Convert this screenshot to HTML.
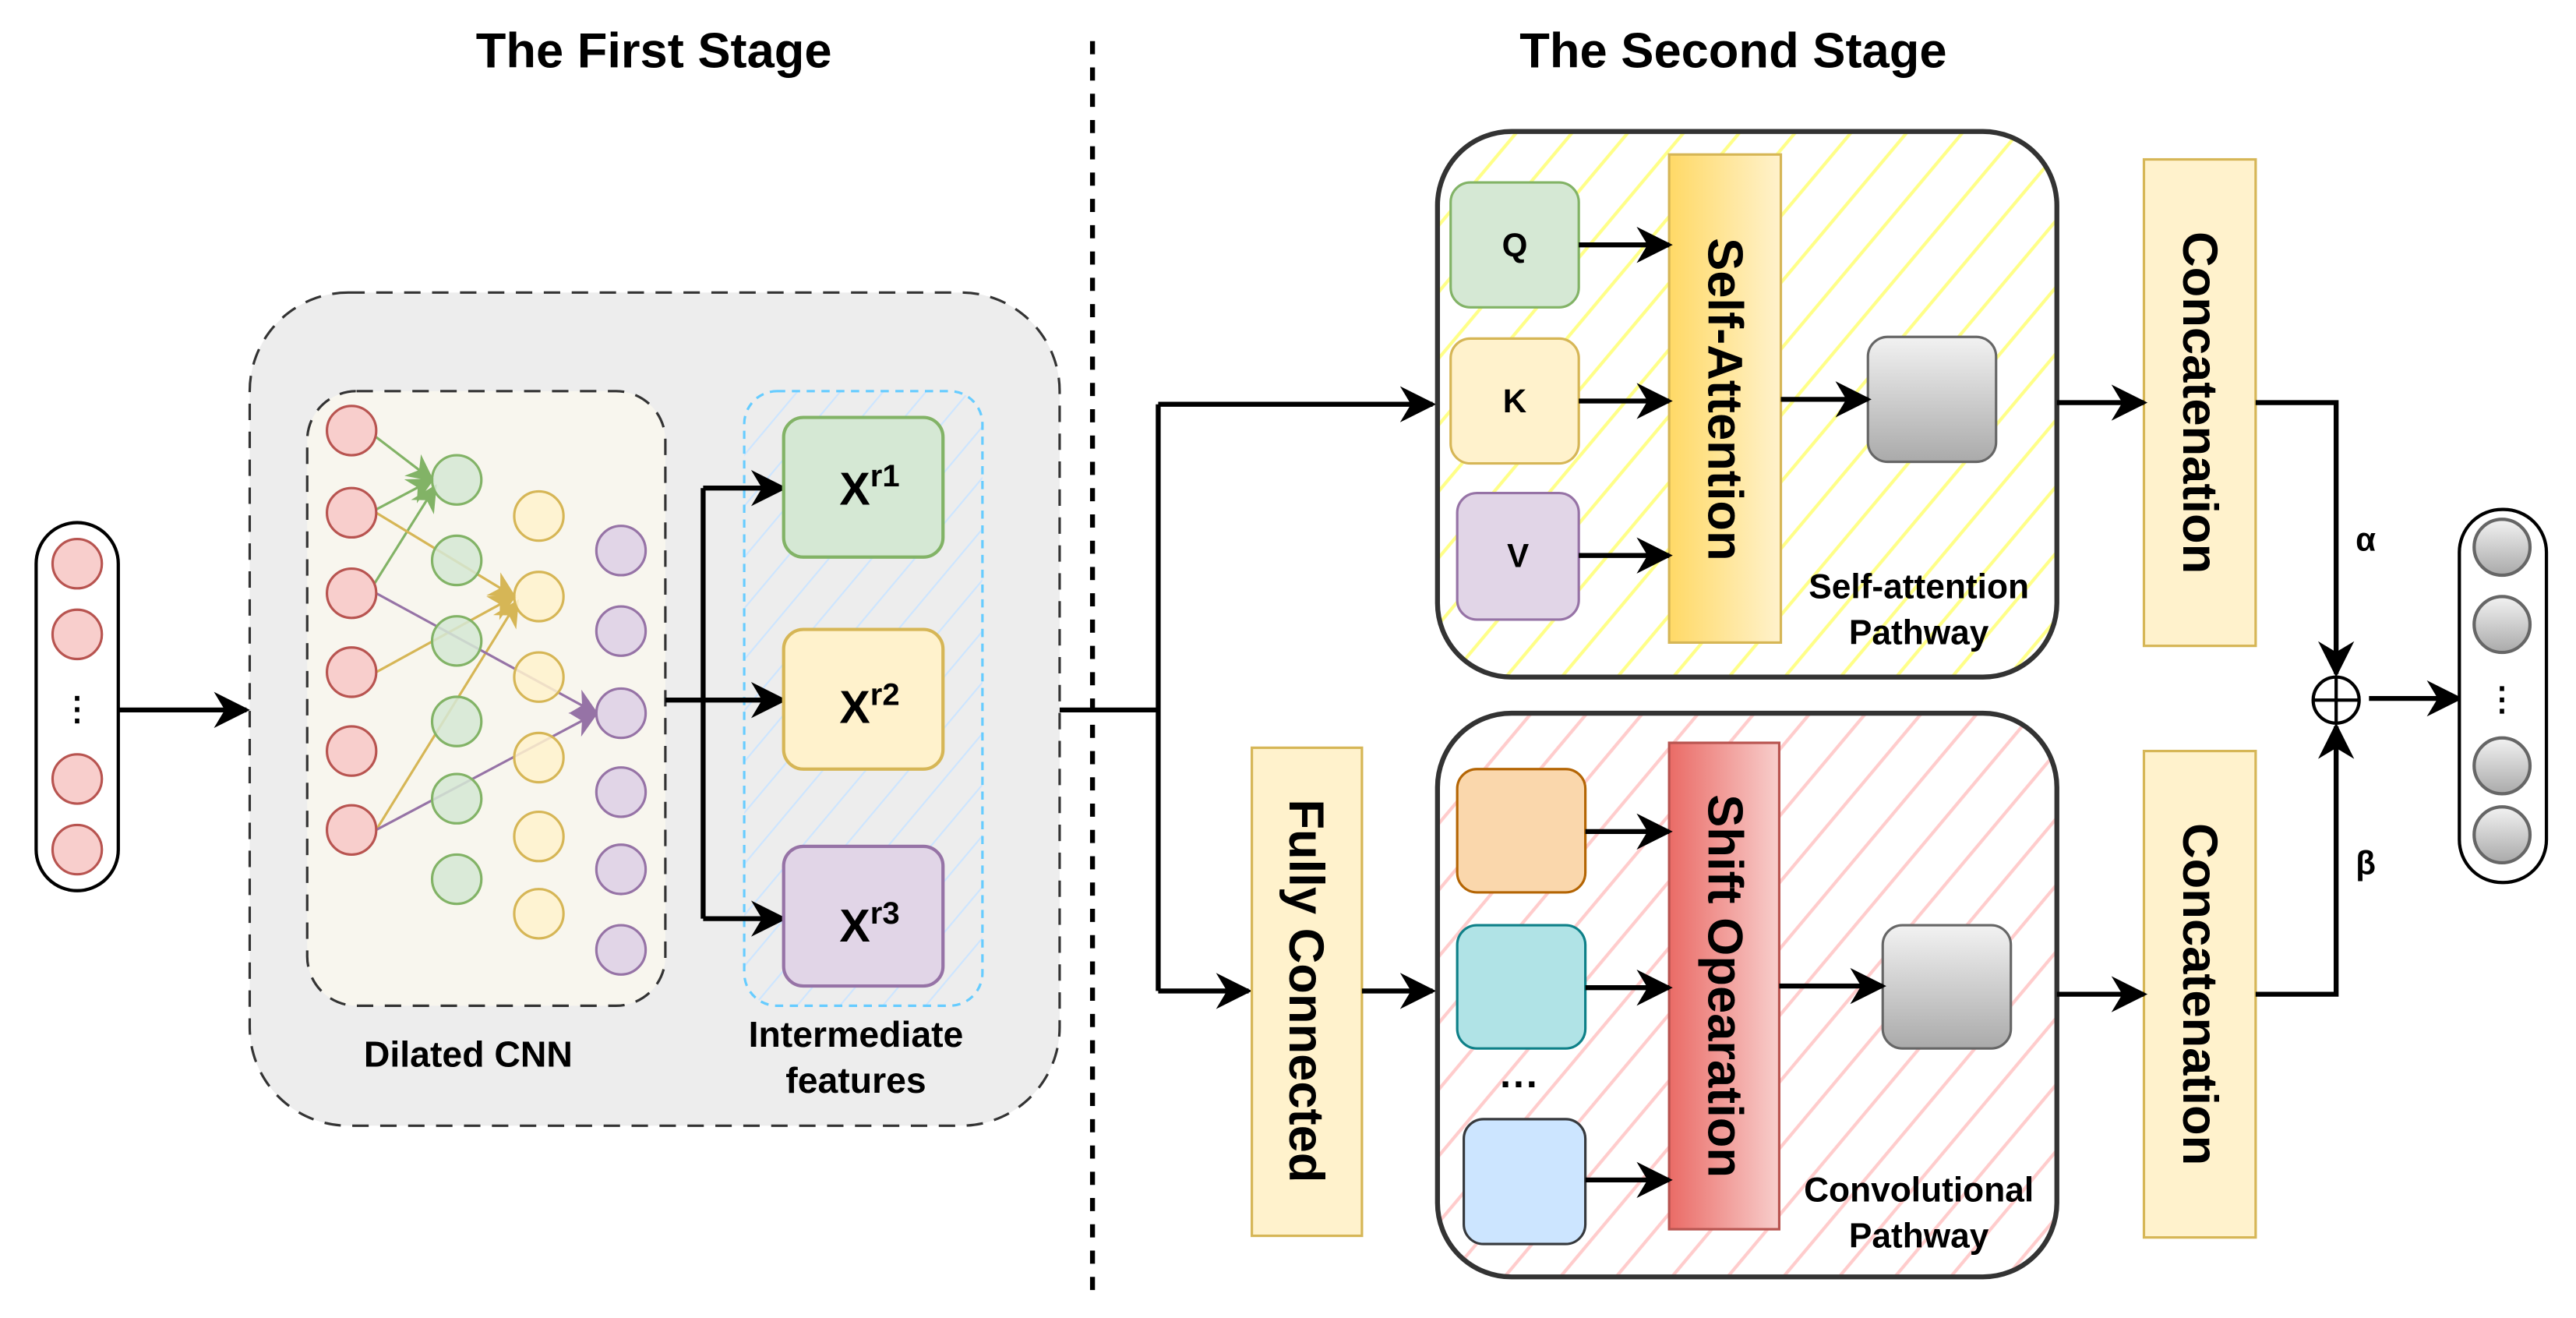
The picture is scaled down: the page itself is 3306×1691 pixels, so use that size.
<!DOCTYPE html>
<html><head><meta charset="utf-8"><style>html,body{margin:0;padding:0;background:#fff}svg{display:block}text{font-family:"Liberation Sans",sans-serif;font-weight:bold}</style></head><body>
<svg width="3306" height="1691" viewBox="0 0 1568 802" xmlns="http://www.w3.org/2000/svg">
<defs>
<marker id="ak" viewBox="0 0 10 10" refX="9" refY="5" markerWidth="22" markerHeight="22" markerUnits="userSpaceOnUse" orient="auto"><path d="M0,0 L10,5 L0,10 L3,5z" fill="#000"/></marker>
<marker id="ag" viewBox="0 0 10 10" refX="9" refY="5" markerWidth="11" markerHeight="11" orient="auto"><path d="M0,0 L10,5 L0,10 L3,5z" fill="#82b366"/></marker>
<marker id="ay" viewBox="0 0 10 10" refX="9" refY="5" markerWidth="11" markerHeight="11" orient="auto"><path d="M0,0 L10,5 L0,10 L3,5z" fill="#d6b656"/></marker>
<marker id="ap" viewBox="0 0 10 10" refX="9" refY="5" markerWidth="11" markerHeight="11" orient="auto"><path d="M0,0 L10,5 L0,10 L3,5z" fill="#9673a6"/></marker>
<pattern id="hy" width="26" height="26" patternUnits="userSpaceOnUse" patternTransform="rotate(40)"><line x1="5" y1="0" x2="5" y2="26" stroke="#ffff88" stroke-width="2"/></pattern>
<pattern id="hr" width="26" height="26" patternUnits="userSpaceOnUse" patternTransform="rotate(40)"><line x1="5" y1="0" x2="5" y2="26" stroke="#ffcccc" stroke-width="2"/></pattern>
<pattern id="hb" width="20" height="20" patternUnits="userSpaceOnUse" patternTransform="rotate(40)"><line x1="5" y1="0" x2="5" y2="20" stroke="#cce5ff" stroke-width="1"/></pattern>
<linearGradient id="gg" x1="0" y1="0" x2="0" y2="1"><stop offset="0" stop-color="#f2f2f2"/><stop offset="1" stop-color="#aaaaaa"/></linearGradient>
<linearGradient id="gy" x1="0" y1="0" x2="1" y2="0"><stop offset="0" stop-color="#ffd966"/><stop offset="1" stop-color="#fff2cc"/></linearGradient>
<linearGradient id="gr" x1="0" y1="0" x2="1" y2="0"><stop offset="0" stop-color="#ea6b66"/><stop offset="1" stop-color="#f8cecc"/></linearGradient>
</defs>

<text x="398" y="41" font-size="30" text-anchor="middle">The First Stage</text>
<text x="1055" y="41" font-size="30" text-anchor="middle">The Second Stage</text>
<line x1="665" y1="25" x2="665" y2="785" stroke="#000" stroke-width="3" stroke-dasharray="8,8"/>

<!-- input -->
<rect x="22" y="318" width="50" height="224" rx="25" fill="#fff" stroke="#000" stroke-width="2"/>
<g fill="#f8cecc" stroke="#b85450" stroke-width="1.5">
<circle cx="47" cy="343" r="15"/><circle cx="47" cy="386" r="15"/><circle cx="47" cy="474" r="15"/><circle cx="47" cy="517" r="15"/></g>
<text x="47" y="438" font-size="20" text-anchor="middle">⋮</text>
<line x1="72" y1="432" x2="150" y2="432" stroke="#000" stroke-width="3" marker-end="url(#ak)"/>

<!-- big box -->
<rect x="152" y="178" width="493" height="507" rx="60" fill="#ededed" stroke="#333" stroke-width="1.5" stroke-dasharray="10,7"/>
<rect x="187" y="238" width="218" height="374" rx="30" fill="#f8f6ee" stroke="#333" stroke-width="1.5" stroke-dasharray="10,7"/>
<rect x="453" y="238" width="145" height="374" rx="20" fill="url(#hb)" stroke="#66ccff" stroke-width="1.5" stroke-dasharray="5,4"/>

<g stroke-width="1.5" fill="none">
<line x1="229" y1="266" x2="263" y2="292" stroke="#82b366" marker-end="url(#ag)"/>
<line x1="229" y1="310" x2="263" y2="292" stroke="#82b366" marker-end="url(#ag)"/>
<line x1="228" y1="355" x2="265" y2="296" stroke="#82b366" marker-end="url(#ag)"/>
<line x1="229" y1="312" x2="313" y2="363" stroke="#d6b656" marker-end="url(#ay)"/>
<line x1="229" y1="409" x2="313" y2="363" stroke="#d6b656" marker-end="url(#ay)"/>
<line x1="229" y1="505" x2="315" y2="366" stroke="#d6b656" marker-end="url(#ay)"/>
<line x1="229" y1="361" x2="363" y2="434" stroke="#9673a6" marker-end="url(#ap)"/>
<line x1="229" y1="505" x2="363" y2="434" stroke="#9673a6" marker-end="url(#ap)"/>
</g>
<g fill="#f8cecc" stroke="#b85450" stroke-width="1.5">
<circle cx="214" cy="262" r="15"/><circle cx="214" cy="312" r="15"/><circle cx="214" cy="361" r="15"/><circle cx="214" cy="409" r="15"/><circle cx="214" cy="457" r="15"/><circle cx="214" cy="505" r="15"/></g>
<g fill="#d5e8d4" stroke="#82b366" stroke-width="1.5" fill-opacity="0.85">
<circle cx="278" cy="292" r="15"/><circle cx="278" cy="341" r="15"/><circle cx="278" cy="390" r="15"/><circle cx="278" cy="439" r="15"/><circle cx="278" cy="486" r="15"/><circle cx="278" cy="535" r="15"/></g>
<g fill="#fff2cc" stroke="#d6b656" stroke-width="1.5" fill-opacity="0.85">
<circle cx="328" cy="314" r="15"/><circle cx="328" cy="363" r="15"/><circle cx="328" cy="412" r="15"/><circle cx="328" cy="461" r="15"/><circle cx="328" cy="509" r="15"/><circle cx="328" cy="556" r="15"/></g>
<g fill="#e1d5e7" stroke="#9673a6" stroke-width="1.5">
<circle cx="378" cy="335" r="15"/><circle cx="378" cy="384" r="15"/><circle cx="378" cy="434" r="15"/><circle cx="378" cy="482" r="15"/><circle cx="378" cy="529" r="15"/><circle cx="378" cy="578" r="15"/></g>

<path d="M405,426 H428 M428,297 V559" stroke="#000" stroke-width="3" fill="none"/>
<line x1="428" y1="297" x2="477" y2="297" stroke="#000" stroke-width="3" marker-end="url(#ak)"/>
<line x1="428" y1="426" x2="477" y2="426" stroke="#000" stroke-width="3" marker-end="url(#ak)"/>
<line x1="428" y1="559" x2="477" y2="559" stroke="#000" stroke-width="3" marker-end="url(#ak)"/>

<rect x="477" y="254" width="97" height="85" rx="12" fill="#d5e8d4" stroke="#82b366" stroke-width="2"/>
<rect x="477" y="383" width="97" height="85" rx="12" fill="#fff2cc" stroke="#d6b656" stroke-width="2"/>
<rect x="477" y="515" width="97" height="85" rx="12" fill="#e1d5e7" stroke="#9673a6" stroke-width="2"/>
<text x="511" y="307" font-size="28">X<tspan font-size="19" dy="-11">r1</tspan></text>
<text x="511" y="440" font-size="28">X<tspan font-size="19" dy="-11">r2</tspan></text>
<text x="511" y="573" font-size="28">X<tspan font-size="19" dy="-11">r3</tspan></text>

<text x="285" y="649" font-size="22" text-anchor="middle">Dilated CNN</text>
<text x="521" y="637" font-size="22" text-anchor="middle">Intermediate</text>
<text x="521" y="665" font-size="22" text-anchor="middle">features</text>

<!-- split -->
<path d="M645,432 H705 M705,246 V603" stroke="#000" stroke-width="3" fill="none"/>
<line x1="705" y1="246" x2="872" y2="246" stroke="#000" stroke-width="3" marker-end="url(#ak)"/>
<line x1="705" y1="603" x2="760" y2="603" stroke="#000" stroke-width="3" marker-end="url(#ak)"/>

<!-- top pathway -->
<rect x="875" y="80" width="377" height="332" rx="45" fill="#fff"/>
<rect x="875" y="80" width="377" height="332" rx="45" fill="url(#hy)" stroke="#333" stroke-width="3"/>
<rect x="883" y="111" width="78" height="76" rx="12" fill="#d5e8d4" stroke="#82b366" stroke-width="1.5"/>
<rect x="883" y="206" width="78" height="76" rx="12" fill="#fff2cc" stroke="#d6b656" stroke-width="1.5"/>
<rect x="887" y="300" width="74" height="77" rx="12" fill="#e1d5e7" stroke="#9673a6" stroke-width="1.5"/>
<text x="922" y="156" font-size="20" text-anchor="middle">Q</text>
<text x="922" y="251" font-size="20" text-anchor="middle">K</text>
<text x="924" y="345" font-size="20" text-anchor="middle">V</text>
<rect x="1016" y="94" width="68" height="297" fill="url(#gy)" stroke="#d6b656" stroke-width="1.5"/>
<text transform="translate(1050,243) rotate(90)" font-size="30" text-anchor="middle" dy="10">Self-Attention</text>
<line x1="961" y1="149" x2="1016" y2="149" stroke="#000" stroke-width="3" marker-end="url(#ak)"/>
<line x1="961" y1="244" x2="1016" y2="244" stroke="#000" stroke-width="3" marker-end="url(#ak)"/>
<line x1="961" y1="338" x2="1016" y2="338" stroke="#000" stroke-width="3" marker-end="url(#ak)"/>
<rect x="1137" y="205" width="78" height="76" rx="12" fill="url(#gg)" stroke="#666" stroke-width="1.5"/>
<line x1="1084" y1="243" x2="1137" y2="243" stroke="#000" stroke-width="3" marker-end="url(#ak)"/>
<text x="1168" y="364" font-size="21" text-anchor="middle">Self-attention</text>
<text x="1168" y="392" font-size="21" text-anchor="middle">Pathway</text>

<!-- fully connected -->
<rect x="762" y="455" width="67" height="297" fill="#fff2cc" stroke="#d6b656" stroke-width="1.5"/>
<text transform="translate(795,603) rotate(90)" font-size="30" text-anchor="middle" dy="10">Fully Connected</text>
<line x1="829" y1="603" x2="872" y2="603" stroke="#000" stroke-width="3" marker-end="url(#ak)"/>

<!-- bottom pathway -->
<rect x="875" y="434" width="377" height="343" rx="45" fill="#fff"/>
<rect x="875" y="434" width="377" height="343" rx="45" fill="url(#hr)" stroke="#333" stroke-width="3"/>
<rect x="887" y="468" width="78" height="75" rx="12" fill="#fad7ac" stroke="#b46504" stroke-width="1.5"/>
<rect x="887" y="563" width="78" height="75" rx="12" fill="#b0e3e6" stroke="#0e8088" stroke-width="1.5"/>
<rect x="891" y="681" width="74" height="76" rx="12" fill="#cce5ff" stroke="#36393d" stroke-width="1.5"/>
<text x="925" y="668" font-size="24" text-anchor="middle">···</text>
<rect x="1016" y="452" width="67" height="296" fill="url(#gr)" stroke="#b85450" stroke-width="1.5"/>
<text transform="translate(1050,600) rotate(90)" font-size="30" text-anchor="middle" dy="10">Shift Opearation</text>
<line x1="965" y1="506" x2="1016" y2="506" stroke="#000" stroke-width="3" marker-end="url(#ak)"/>
<line x1="965" y1="601" x2="1016" y2="601" stroke="#000" stroke-width="3" marker-end="url(#ak)"/>
<line x1="965" y1="718" x2="1016" y2="718" stroke="#000" stroke-width="3" marker-end="url(#ak)"/>
<rect x="1146" y="563" width="78" height="75" rx="12" fill="url(#gg)" stroke="#666" stroke-width="1.5"/>
<line x1="1083" y1="600" x2="1146" y2="600" stroke="#000" stroke-width="3" marker-end="url(#ak)"/>
<text x="1168" y="731" font-size="21" text-anchor="middle">Convolutional</text>
<text x="1168" y="759" font-size="21" text-anchor="middle">Pathway</text>

<!-- concat -->
<rect x="1305" y="97" width="68" height="296" fill="#fff2cc" stroke="#d6b656" stroke-width="1.5"/>
<text transform="translate(1339,245) rotate(90)" font-size="30" text-anchor="middle" dy="10">Concatenation</text>
<rect x="1305" y="457" width="68" height="296" fill="#fff2cc" stroke="#d6b656" stroke-width="1.5"/>
<text transform="translate(1339,605) rotate(90)" font-size="30" text-anchor="middle" dy="10">Concatenation</text>
<line x1="1252" y1="245" x2="1305" y2="245" stroke="#000" stroke-width="3" marker-end="url(#ak)"/>
<line x1="1252" y1="605" x2="1305" y2="605" stroke="#000" stroke-width="3" marker-end="url(#ak)"/>
<path d="M1373,245 H1422 V410" stroke="#000" stroke-width="3" fill="none" marker-end="url(#ak)"/>
<path d="M1373,605 H1422 V442" stroke="#000" stroke-width="3" fill="none" marker-end="url(#ak)"/>
<text x="1440" y="335" font-size="20" text-anchor="middle">α</text>
<text x="1440" y="532" font-size="20" text-anchor="middle">β</text>
<circle cx="1422" cy="426" r="14" fill="#fff" stroke="#000" stroke-width="2"/>
<path d="M1408,426 H1436 M1422,412 V440" stroke="#000" stroke-width="2"/>
<line x1="1442" y1="425" x2="1497" y2="425" stroke="#000" stroke-width="3" marker-end="url(#ak)"/>

<!-- output -->
<rect x="1497" y="310" width="53" height="227" rx="26" fill="#fff" stroke="#000" stroke-width="2"/>
<g fill="url(#gg)" stroke="#666" stroke-width="2">
<circle cx="1523" cy="333" r="17"/><circle cx="1523" cy="380" r="17"/><circle cx="1523" cy="466" r="17"/><circle cx="1523" cy="508" r="17"/></g>
<text x="1523" y="432" font-size="20" text-anchor="middle">⋮</text>
</svg>
</body></html>
